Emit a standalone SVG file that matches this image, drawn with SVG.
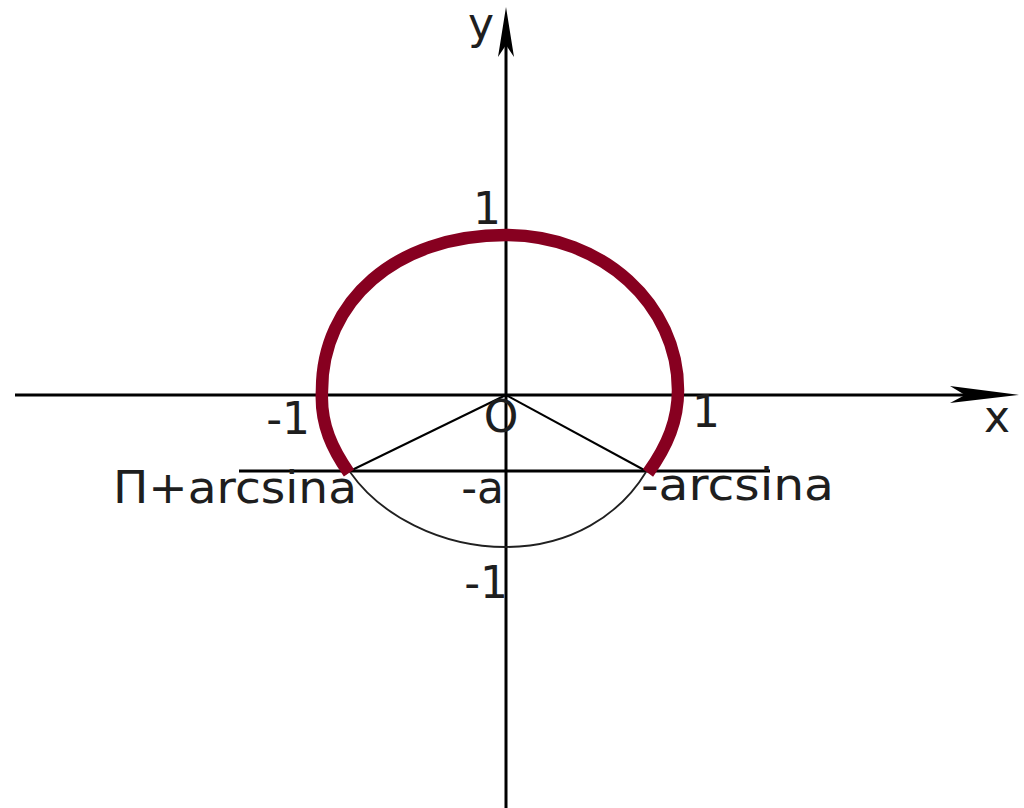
<svg xmlns="http://www.w3.org/2000/svg" width="1024" height="808" viewBox="0 0 1024 808">
<style>
  .ax { stroke: #000; stroke-width: 3; fill: none; }
  .thin { stroke: #000; stroke-width: 2; fill: none; }
  .arc { stroke: #202020; stroke-width: 1.8; fill: none; }
  .red { stroke: #870020; stroke-width: 12.5; fill: none; stroke-linecap: butt; }
  .lbl { font-family: "DejaVu Sans", "Liberation Sans", sans-serif; font-size: 44px; fill: #1e1e1e; }
</style>
<rect width="1024" height="808" fill="#fff"/>
<g id="connectors">
  <line class="ax" x1="15" y1="395" x2="1000" y2="395"/>
  <polygon points="1019,395 950,386 965,395 950,403" fill="#000"/>
  <line class="ax" x1="506" y1="808" x2="506" y2="20"/>
  <polygon points="506,7 498,57 506,45 514,57" fill="#000"/>
  <line class="ax" x1="239" y1="471" x2="770" y2="471"/>
  <line class="thin" x1="506" y1="395" x2="350" y2="471"/>
  <line class="thin" x1="506" y1="395" x2="646" y2="471"/>
  <path class="arc" d="M350,472 C380,515 440,547 506,547 C570,547 620,515 646,472"/>
  <path class="red" d="M349,473 C333,450 320,425 322,390 C322,302 395,235 506,235 C603,235 678,305 678,390 C678,420 668,445 648,473"/>
</g>
<g id="axis-y-label"><text class="lbl" x="481" y="39" text-anchor="middle" font-size="44">y</text></g>
<g id="axis-x-label"><text class="lbl" x="997" y="432" text-anchor="middle" font-size="46">x</text></g>
<g id="label-top-1"><text class="lbl" x="487" y="224" text-anchor="middle">1</text></g>
<g id="label-right-1"><text class="lbl" x="706" y="427" text-anchor="middle">1</text></g>
<g id="label-left-minus1"><text class="lbl" x="310" y="434" text-anchor="end" font-size="46">-1</text></g>
<g id="label-bottom-minus1"><text class="lbl" x="508" y="598" text-anchor="end">-1</text></g>
<g id="label-origin"><text class="lbl" x="501" y="432" text-anchor="middle" font-size="46">O</text></g>
<g id="label-minus-a"><text class="lbl" x="504" y="503" text-anchor="end">-a</text></g>
<g id="label-pi-arcsina"><text class="lbl" x="113" y="503" textLength="244" lengthAdjust="spacingAndGlyphs">П+arcsina</text></g>
<g id="label-minus-arcsina"><text class="lbl" x="641" y="500" textLength="193" lengthAdjust="spacingAndGlyphs">-arcsina</text></g>
</svg>
